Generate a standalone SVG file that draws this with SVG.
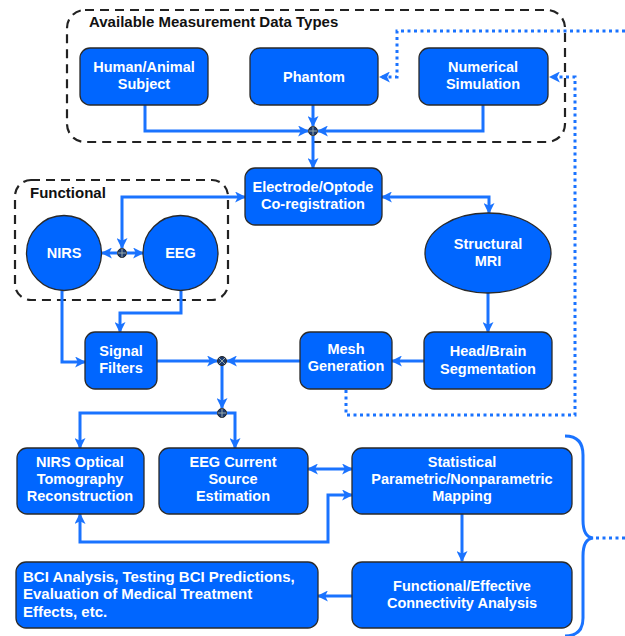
<svg xmlns="http://www.w3.org/2000/svg" width="625" height="636" viewBox="0 0 625 636">
<style>
.box{fill:#0066ff;stroke:#2a2a2a;stroke-width:1.3}
.t{fill:#fff;font-family:"Liberation Sans",Arial,sans-serif;font-weight:bold;font-size:14.5px;text-anchor:middle}
.tl{fill:#fff;font-family:"Liberation Sans",Arial,sans-serif;font-weight:bold;font-size:15px}
.title{fill:#111;font-family:"Liberation Sans",Arial,sans-serif;font-weight:bold;font-size:15px}
.grp{fill:none;stroke:#222;stroke-width:2.2;stroke-dasharray:9 6}
.c{fill:none;stroke:#1a73ff;stroke-width:3}
.d{fill:none;stroke:#1a73ff;stroke-width:3;stroke-dasharray:3 3.5}
.j{fill:#1d3b6e;stroke:#222;stroke-width:1}
.jx{stroke:#9aa;stroke-width:1}
</style>
<defs>
<marker id="a" viewBox="0 0 10 10" refX="9" refY="5" markerWidth="11" markerHeight="11" markerUnits="userSpaceOnUse" orient="auto-start-reverse">
<path d="M0,0 L10,5 L0,10 L2.5,5 z" fill="#1a73ff"/>
</marker>
</defs>

<g id="groups">
<rect class="grp" x="67" y="10" width="498" height="132" rx="18"/>
<text class="title" x="89" y="27">Available Measurement Data Types</text>
<rect class="grp" x="15" y="180" width="213" height="120" rx="16"/>
<text class="title" x="30" y="198">Functional</text>
</g>

<g id="connectors">
<path class="c" d="M145,105 V131 H308" marker-end="url(#a)"/>
<path class="c" d="M313,105 V126" marker-end="url(#a)"/>
<path class="c" d="M483,105 V131 H318" marker-end="url(#a)"/>
<path class="c" d="M313,136 V168" marker-end="url(#a)"/>
<path class="d" d="M625,31 H397 V77 H380" marker-end="url(#a)"/>
<path class="d" d="M346,390 V415 H575 V77 H550" marker-end="url(#a)"/>
<path class="c" d="M122,248 V197 H245" marker-start="url(#a)" marker-end="url(#a)"/>
<path class="c" d="M117,253 H102" marker-end="url(#a)"/>
<path class="c" d="M127,253 H143" marker-end="url(#a)"/>
<path class="c" d="M382,197 H489 V213" marker-start="url(#a)" marker-end="url(#a)"/>
<path class="c" d="M488,293 V332" marker-end="url(#a)"/>
<path class="c" d="M424,361 H392" marker-end="url(#a)"/>
<path class="c" d="M62,290 V362 H85" marker-end="url(#a)"/>
<path class="c" d="M181,290 V313 H120 V332" marker-end="url(#a)"/>
<path class="c" d="M157,361 H217" marker-end="url(#a)"/>
<path class="c" d="M300,361 H227" marker-end="url(#a)"/>
<path class="c" d="M222,366 V408" marker-end="url(#a)"/>
<path class="c" d="M218,413 H80 V448" marker-end="url(#a)"/>
<path class="c" d="M226,413 H235 V448" marker-end="url(#a)"/>
<path class="c" d="M308,469 H352" marker-start="url(#a)" marker-end="url(#a)"/>
<path class="c" d="M80,514 V542 H328 V495 H352" marker-start="url(#a)" marker-end="url(#a)"/>
<path class="c" d="M462,514 V561" marker-end="url(#a)"/>
<path class="c" d="M352,596 H318" marker-end="url(#a)"/>
<path class="c" d="M565,436 Q583,436 583,455 V520 Q583,537 593,538 Q583,539 583,556 V618 Q583,636 565,636"/>
<path class="d" d="M596,538 H625"/>
</g>

<g id="junctions">
<g id="j1"><circle class="j" cx="313" cy="131" r="4.5"/><path class="jx" d="M308.5,131 H317.5 M313,126.5 V135.5"/></g>
<g id="j2"><circle class="j" cx="122" cy="253" r="4.5"/><path class="jx" d="M117.5,253 H126.5 M122,248.5 V257.5"/></g>
<g id="j3"><circle class="j" cx="222" cy="361" r="4.5"/><path class="jx" d="M218.8,357.8 L225.2,364.2 M225.2,357.8 L218.8,364.2"/></g>
<g id="j4"><circle class="j" cx="222" cy="413" r="4.5"/><path class="jx" d="M217.5,413 H226.5 M222,408.5 V417.5"/></g>
</g>

<g id="human"><rect class="box" x="80" y="48" width="128" height="57" rx="10"/><text class="t" x="144" y="72">Human/Animal</text><text class="t" x="144" y="89">Subject</text></g>
<g id="phantom"><rect class="box" x="250" y="48" width="128" height="57" rx="10"/><text class="t" x="314" y="82">Phantom</text></g>
<g id="numerical"><rect class="box" x="419" y="48" width="129" height="57" rx="10"/><text class="t" x="483" y="72">Numerical</text><text class="t" x="483" y="89">Simulation</text></g>
<g id="electrode"><rect class="box" x="245" y="168" width="137" height="57" rx="10"/><text class="t" x="313" y="192">Electrode/Optode</text><text class="t" x="313" y="209">Co-registration</text></g>
<g id="nirs"><circle class="box" cx="64" cy="253" r="37.5"/><text class="t" x="64" y="258">NIRS</text></g>
<g id="eeg"><circle class="box" cx="180.5" cy="253" r="37.5"/><text class="t" x="180.5" y="258">EEG</text></g>
<g id="mri"><ellipse class="box" cx="488" cy="253" rx="63" ry="40"/><text class="t" x="488" y="249">Structural</text><text class="t" x="488" y="266">MRI</text></g>
<g id="signal"><rect class="box" x="85" y="332" width="72" height="57" rx="10"/><text class="t" x="121" y="356">Signal</text><text class="t" x="121" y="373">Filters</text></g>
<g id="mesh"><rect class="box" x="300" y="332" width="92" height="57" rx="10"/><text class="t" x="346" y="354">Mesh</text><text class="t" x="346" y="371">Generation</text></g>
<g id="head"><rect class="box" x="424" y="332" width="128" height="57" rx="10"/><text class="t" x="488" y="356">Head/Brain</text><text class="t" x="488" y="374">Segmentation</text></g>
<g id="nirsopt"><rect class="box" x="17" y="448" width="127" height="66" rx="10"/><text class="t" x="80" y="467">NIRS Optical</text><text class="t" x="80" y="484">Tomography</text><text class="t" x="80" y="501">Reconstruction</text></g>
<g id="eegcur"><rect class="box" x="159" y="448" width="149" height="66" rx="10"/><text class="t" x="233" y="467">EEG Current</text><text class="t" x="233" y="484">Source</text><text class="t" x="233" y="501">Estimation</text></g>
<g id="stat"><rect class="box" x="352" y="448" width="220" height="66" rx="10"/><text class="t" x="462" y="467">Statistical</text><text class="t" x="462" y="484">Parametric/Nonparametric</text><text class="t" x="462" y="501">Mapping</text></g>
<g id="func"><rect class="box" x="352" y="562" width="220" height="66" rx="10"/><text class="t" x="462" y="591">Functional/Effective</text><text class="t" x="462" y="608">Connectivity Analysis</text></g>
<g id="bci"><rect class="box" x="16" y="562" width="302" height="66" rx="10"/><text class="tl" x="23" y="582">BCI Analysis, Testing BCI Predictions,</text><text class="tl" x="23" y="599">Evaluation of Medical Treatment</text><text class="tl" x="23" y="617">Effects, etc.</text></g>
</svg>
